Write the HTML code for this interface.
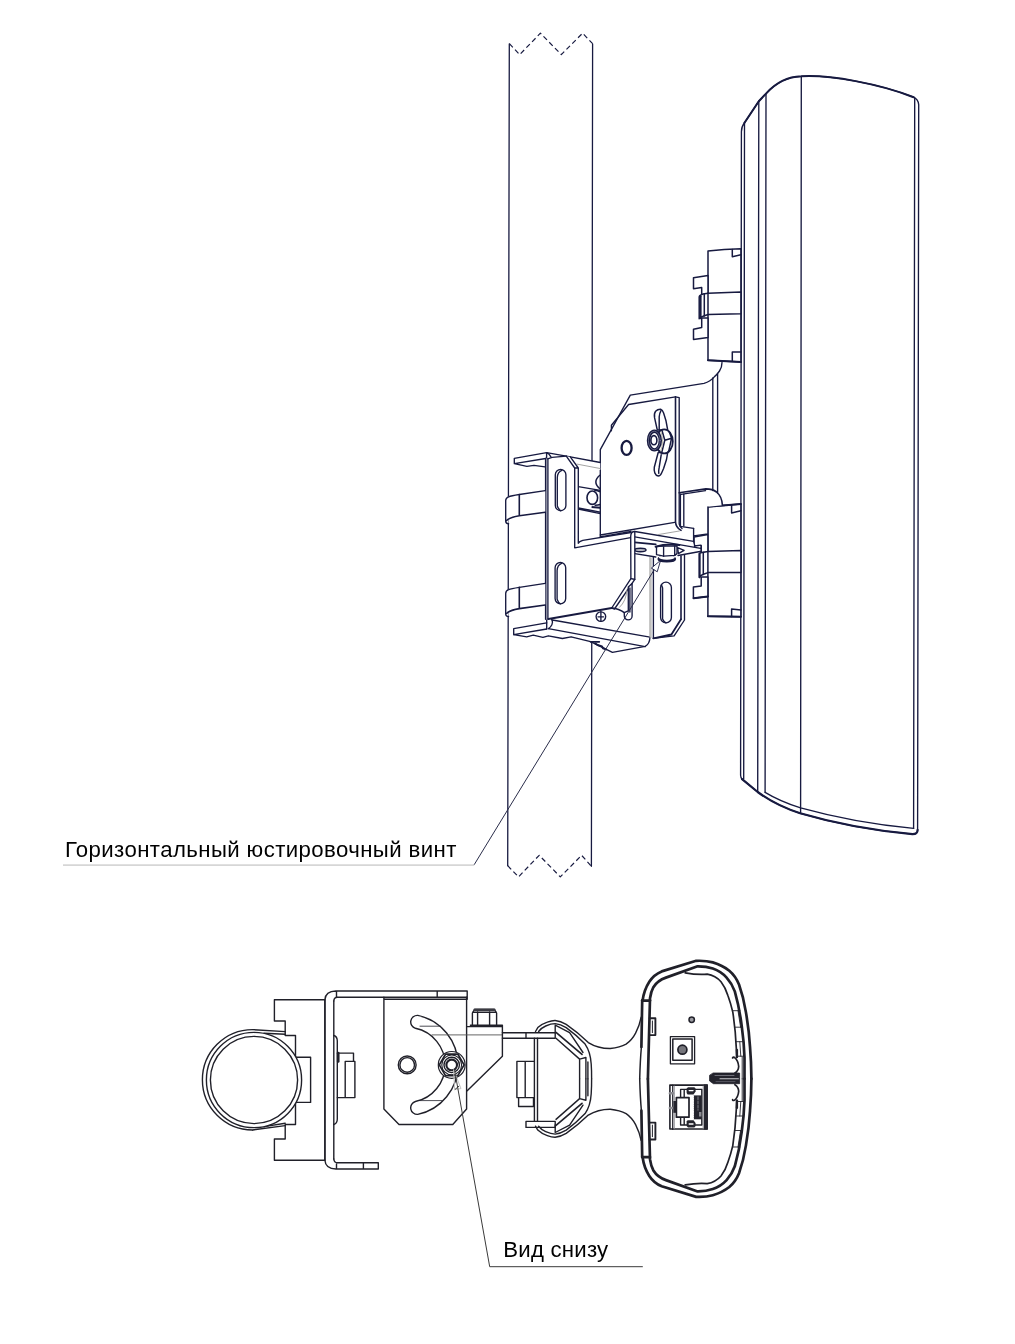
<!DOCTYPE html>
<html><head><meta charset="utf-8">
<style>
html,body{margin:0;padding:0;background:#fff;}
body{width:1015px;height:1344px;overflow:hidden;position:relative;font-family:"Liberation Sans",sans-serif;}
svg{position:absolute;left:0;top:0;display:block;}
.t{stroke:#171a40;fill:none;stroke-width:1.35;stroke-linecap:round;stroke-linejoin:round;}
.t .w{fill:#fff;}
.t .k{stroke-width:2;}
.t .m{stroke-width:1.6;}
.t .g{stroke:#9a9a98;stroke-width:0.9;}
.b{stroke:#202029;fill:none;stroke-width:1.4;stroke-linecap:round;stroke-linejoin:round;}
.b .w{fill:#fff;}
.b .k{stroke-width:2.7;}
.b .m{stroke-width:1.7;}
.b .g{stroke:#9a9a9a;stroke-width:0.9;}
.b .d{fill:#24242d;}
text{font-family:"Liberation Sans",sans-serif;fill:#000;stroke:none;}
</style></head><body>
<svg width="1015" height="1344" viewBox="0 0 1015 1344">
<!-- ===== TOP VIEW ===== -->
<g class="t" id="top">
<!-- POLE -->
<g id="pole" style="stroke-width:1.3">
<path d="M509.3 44L507.7 865.7M592.6 44L592 460.7M591.75 641.6L591.4 866.3"/>
<path d="M509.4 43.7L519.7 54.6L540.4 33.2L561.3 54.6L582.6 33.2L592.6 43.7" stroke-dasharray="5 3.2" style="stroke-linecap:butt;stroke-width:1.2"/>
<path d="M507.7 865.7L518.5 876.9L539.2 855.3L560.3 876.9L581.6 855.3L591.4 866.3" stroke-dasharray="5 3.2" style="stroke-linecap:butt;stroke-width:1.2"/>
</g>
<!--POLE-END-->
<!-- ANTENNA -->
<g id="antenna">
<path class="w" d="M741.4 131.7L740.6 775.3Q740.7 778 742.1 779.2L757.7 792Q776 805.5 800.2 813.3Q852 828.5 912.4 834.2Q917.6 834.3 917.6 829.9L918.7 104.6Q918.3 99.6 913.6 97.2C880 84 830 74.5 801.3 76.3Q781 77 766 93.6L758.8 101.2L744.5 122.8Q741.5 126.5 741.4 131.7Z"/>
<path class="k" d="M744.5 122.8L758.8 101.2L766 93.6Q781 77 801.3 76.3C830 74.5 880 84 913.6 97.2"/>
<path class="k" d="M742.1 779.2L757.7 792Q776 805.5 800.2 813.3Q852 828.5 912.4 834.2Q917.6 834.3 917.6 829.9" style="stroke-width:2.2"/>
<path d="M744.5 122.8L743.7 778.7"/>
<path d="M758.8 101.2L757.7 792"/>
<path d="M766 93.6L765.1 792.3"/>
<path d="M801.3 76.3L800.6 813"/>
<path d="M914.7 98L913.6 828.4"/>
<path d="M765.1 792.3Q780 801.3 800.6 807.9Q855 823 913.6 828.4"/>
</g>
<!--ANTENNA-END-->
<!-- UPPER CLAMP -->
<g id="uclamp" style="stroke-width:1.5">
<path class="w" d="M708 250.9Q724 249.2 740.9 248.7V362.1L708 360.2Z"/>
<path class="k" d="M708 360.2L741 362.1"/>
<path d="M732.3 249.6V256.8L740.9 254.7M740.9 352H732.3V360.8"/>
<path class="w" d="M708 275.5L693.5 277.8V288.8L701.7 287.5V295.1H708Z"/>
<path class="w" d="M708 317.9H701.7V327.4L693.5 329.3V339.4L708 337.5Z"/>
<path class="w" d="M699.2 296.8Q699.6 295 703 294L708 293.2L740.9 292V313.7L708 314.5L703 316.3Q699.8 317.3 699.2 318.8Z"/>
<path class="k" d="M700.6 296.3V318.2"/>
<path d="M704.3 293.8V316M708 293.2V314.5"/>
</g>
<!-- LOWER CLAMP -->
<g id="lclamp" style="stroke-width:1.5">
<path class="w" d="M707.9 506.8L740.9 504V616.7L707.9 616.2Z"/>
<path class="k" d="M707.9 506.8L740.9 504M707.9 616.2L740.9 616.7"/>
<path d="M731.6 505.1V512.9L740.9 510.7M740.9 610L731.6 608.9V616.5"/>
<path class="w" d="M707.9 534.4L694 536.9V546.4L701.2 545.8V552.5H707.9Z"/>
<path class="w" d="M707.9 577H701.2V586L693.4 587.1V598.3L707.9 596.6Z"/>
<path class="w" d="M699.4 553.6Q700 552.8 702.4 552.5L707.9 551.4L740.9 550.5V572.4L707.9 572.6L703.5 574.3Q700 575.5 699.4 577.4Z"/>
<path class="k" d="M699.6 553.4V577.2M693.6 598.2L707.9 596.6"/>
<path d="M703.3 552.4V574.4M707.9 551.4V572.6"/>
</g>
<!-- BACK PLATE (big plate with diagonal corner) -->
<g id="backplate">
<path class="w" style="stroke:none" d="M600.3 536.6V449.7L630.3 395.2L704 383.3Q710.5 381.6 714.5 376.6Q717 374.6 719.5 371Q722 367.5 722 362.5L722.4 505.2L707.9 506.8V533.8L693.6 535.2V528.3L680.2 526.3L674.7 522.4Z"/><path d="M600.3 536.6V449.7L630.3 395.2L704 383.3Q710.5 381.6 714.5 376.6Q717 374.6 719.5 371Q722 367.5 722 362.5"/>
<path d="M712.8 377.8V490.6M717.6 373.8V493"/>
<path class="m" d="M679.2 492.8L705.9 488.9Q712.5 489 716.5 492Q722 496.5 722.4 505.2"/>
<path d="M681 494.3L705.5 490.6M683.8 494V525.9M680.4 494V526"/>
<path d="M707.9 506.8V533.8L693.6 535.8M693.6 528.3V541.5"/>
</g>
<!-- FRONT INNER PLATE -->
<g id="innerplate">
<path d="M611.4 430.7V425.2L628.6 404.5L675.5 396.9"/>
<path class="m" d="M675.5 396.9V521.7Q675.8 527.5 681 530.4"/>
<path d="M679.2 397.6V524Q680 527 682 528.5M675.5 396.9L679.2 397.6"/>
<path d="M600.3 535L674.7 522.4M600.3 536.9L631 531.5"/>
<path d="M680.2 526.3L693.6 528.3"/>
<ellipse cx="626.6" cy="447.9" rx="5" ry="7" style="stroke-width:2.3"/>
</g>
<!-- WING NUT -->
<g id="wingnut" style="stroke-width:1.45">
<path class="w" d="M657.3 430L654.6 417.9Q653.8 413.5 655.6 411.2Q657.6 409.2 660.6 409.3Q662.6 410 663.6 413L666 420.8L667.7 430Z"/>
<path d="M659.2 430V416.7Q659.4 413.5 661 410.6"/>
<path class="w" d="M658.2 452.5L654.3 467.3Q653.8 470.5 654.8 472.9Q656 475.8 658.2 476Q660.4 476 661.6 473L663.6 468.5L666.5 459.5L667.7 452.4Z"/>
<path d="M661.2 454.8L659.1 467.9Q658.5 470.5 658.8 473.4"/>
<ellipse class="w" cx="664.2" cy="441.4" rx="8.6" ry="12" style="stroke-width:1.8"/>
<path d="M662 430.5L664.8 440.3L661.8 452.2M664.8 440.3L671.6 438.2M669.3 431.8L671.6 438.2L668.8 450.8" style="stroke-width:1.5"/>
<path class="g" d="M661 432Q664.3 441 660.8 451" style="stroke:#b9b7a8;stroke-width:1"/>
<ellipse class="w" cx="654.4" cy="440.6" rx="5.9" ry="9.3" style="stroke-width:3.4"/>
<ellipse cx="654.3" cy="440.5" rx="5.9" ry="9.3" style="stroke:#8d8fa6;stroke-width:.6"/>
<ellipse cx="653.9" cy="440.2" rx="3" ry="4.6" style="stroke-width:1.6"/>
</g>
<!-- BOTTOM FLANGE (horizontal plate under bracket) -->
<g id="bflange">
<path class="w" style="stroke:none" d="M513.7 628.7L546.7 622.8L548.4 619L611.7 608L650 637.2Q649.6 644 645.2 646.4L612.4 652.3L590.6 641.7L571.1 636.8L562.4 638.5L548.4 635.8L542.9 637.4L533.2 635.2L526.7 636.8L513.7 634.7Z"/>
<path d="M546.7 622.8L513.7 628.7V634.7L526.7 636.8L533.2 635.2L542.9 637.4L548.4 635.8L562.4 638.5L571.1 636.8L590.6 641.7L612.4 652.3L645.2 646.4Q649.6 644 650 637.2M513.7 634.7L546.7 629"/>
<path d="M551.6 619.4Q553.3 622 551.9 624.8Q550.6 627.4 548.4 628.7M546.7 620V629M552.4 620L650 637.2M548.4 628.7L645.2 646.6"/>
<path d="M590.6 641.8H599.3" style="stroke-width:1.7"/>
<path d="M595.5 643.6L597.6 645L602 646.4L603 648.2L606 649.4" style="stroke-width:2"/>
<circle class="w" cx="600.9" cy="616.6" r="4.8"/>
<path d="M600.9 611.6V621.2M598 616.8H603.6"/>
</g>
<!-- ANGLE PLATE ON POLE (L-shaped front plate) -->
<g id="lplate">
<!-- top flange -->
<path class="w" style="stroke:none" d="M514.3 458.3L546.6 452.6L566.3 456.2L600.3 462.5V470L578.3 468L545.7 466.8L534 465.4L526.9 466.4L514.3 463.6Z"/>
<path d="M600.3 462.5L566.3 456.2L546.6 452.6L514.3 458.3V463.6L526.9 466.4L534 465.4L545 466.8M514.3 463.6L545.7 458.5"/>
<path d="M546.6 452.6Q549.5 453.8 550.9 456.9M546.6 452.6V458.4"/>
<!-- front face -->
<path class="w" style="stroke:none" d="M545.7 458.5L552.1 457.3L566.3 456.2L570.3 456.9L578.3 468V543.3L632 537.4L631 578.6L611.7 608L548.3 619L545.7 619.3Z"/>
<path d="M547.6 458.9L552.1 457.3L566.3 456.2"/>
<path class="m" d="M545.7 458.5V619.3"/>
<path d="M547.9 458.8V619"/>
<path d="M566.3 456.2L574.7 468V547.8L632 537.4"/>
<path d="M570.3 456.9L578.3 468V543.3Q578.8 541.5 582.8 540.3L631 532.5M574.7 468H578.3"/>
<path class="g" d="M577 464.1L600 468.5"/>
<!-- slots -->
<rect x="555.3" y="469.5" width="10.6" height="41.2" rx="5.3"/>
<path d="M561.8 470.4Q557.6 472 557.3 477.5V506Q558.5 509.6 560.6 510.6"/>
<rect x="555.1" y="562.5" width="10.6" height="41.4" rx="5.3"/>
<path d="M561.6 563.4Q557.4 565 557.1 570.5V599.2Q558.3 602.8 560.4 603.8"/>
<path class="k" d="M548.3 619L611.7 608"/>
</g>
<!-- BAND CLAMPS ON POLE -->
<g id="bands">
<path class="w" d="M545.3 490.6L519.3 494.5Q511 495.8 508.6 496.8Q505.7 497.8 505.7 500.6V521.4Q505.9 523.7 508.6 523.7L508.6 519Q511 517.3 519.3 515.8L545.3 512.2Z" style="stroke:none"/><path d="M545.3 490.6L519.3 494.5Q511 495.8 508.6 496.8Q505.7 497.8 505.7 500.6V521.4Q505.9 523.7 508.6 523.7"/><path class="m" d="M506.6 520.6Q509 517.5 519.3 515.8L545.3 512.2M519.3 494.5V515.8"/>
<path class="w" d="M545.3 583.4L519.3 587.3Q511 588.6 508.6 589.6Q505.7 590.6 505.7 593.4V614.2Q505.9 616.5 508.6 616.5L508.6 611.8Q511 610.1 519.3 608.6L545.3 605.0Z" style="stroke:none"/><path d="M545.3 583.4L519.3 587.3Q511 588.6 508.6 589.6Q505.7 590.6 505.7 593.4V614.2Q505.9 616.5 508.6 616.5"/><path class="m" d="M506.6 613.4Q509 610.3 519.3 608.6L545.3 605.0M519.3 587.3V608.6"/>
</g>
<!-- HARDWARE BETWEEN L-PLATE AND BACK PLATE -->
<g id="hw" style="stroke-linecap:butt">
<path d="M578.3 486.7L600.3 490.4M578.3 507.8L600.3 512.2M578.3 509.2L600.3 513.6"/>
<path d="M594.2 490.2Q598 490.4 600.2 491.8M594.6 505.3Q598 505.4 600.2 504.6" style="stroke-width:1.6"/>
<ellipse class="w" cx="592.3" cy="497.7" rx="5.3" ry="6.7" style="stroke-width:1.6"/>
<path d="M591.6 507L600.2 507.8" style="stroke-width:2"/>
<path d="M600.2 475Q591.5 481.8 600.2 489" style="stroke-width:1.5"/>
</g>
<!-- LOWER BRACKET -->
<g id="lbracket">
<!-- front plate 2 -->
<path class="w" d="M649.9 557.2H684.5V620L674.1 635.9L653.4 638.5L649.9 637.2Z" style="stroke:none"/>
<path class="g" d="M649.9 557.2V637.2M651 558V637.6"/>
<path d="M653.4 557.5V638.3"/>
<path class="k" d="M653.4 638.3L671.4 634.5L681 619.3" style="stroke-width:1.8"/><path class="m" d="M681 619.3V556"/>
<path d="M653.4 638.3L674.1 635.9L684.5 620V551"/>
<rect x="660.6" y="582.1" width="10.8" height="40.7" rx="5.4"/>
<path d="M662.6 588V619Q664 622 666 622.8M662.6 588Q662 586 661.3 585"/>
<!-- top flange of lower bracket -->
<path class="w" d="M634.8 531.5L693.6 541.3L694.8 545.6L701 545.2V551.5L677.8 555.5L655.8 557L634.8 553.7Z" style="stroke:none"/>
<path d="M634.8 531.5L693.6 541.3M634.8 536.9L700.7 548.4M634.8 553.7L655.8 557M678 555.5L700 551.5M693.6 541.3L694.8 545.8M694.4 546L701 545.2V551.5"/>
<path class="m" d="M634.8 542.4L655.8 544.4"/>
<path class="g" d="M658.1 534.6L679.4 531"/>
<ellipse cx="640.4" cy="550" rx="5.6" ry="1.7" style="stroke-width:1.5;fill:#b9b9c0"/>
<!-- small vertical piece + gusset -->
<path class="w" d="M630.7 536.5Q630.7 531.5 634.8 531.5V579.3L614.5 609L611.7 608L630.9 578.6Z"/>
<path d="M634.8 579.3Q633 579 631 578.6"/>
<path class="w" d="M628.3 587L632.1 583.5V616A3.9 3.9 0 0 1 624.3 616V612.6Q626.6 611.6 628.3 610.8Z"/>
<path d="M629.9 588V612"/>
<path class="m" d="M611.7 608Q619 608.6 624.3 612.6"/>
<path class="g" d="M626.8 590Q626.4 601 619.5 607.3"/>
<!-- nut -->
<ellipse cx="666.8" cy="559" rx="8.7" ry="2.9" style="fill:#171a40"/>
<ellipse cx="666.8" cy="557.6" rx="8" ry="2.1" style="fill:#fff;stroke:none"/>
<path class="w" d="M656.5 546.3V554.6L663.6 556.2L674.7 555.4L677 553.6V545.8Z"/>
<path d="M663.6 546.8V556.2M674.7 546V555.4"/>
<path class="w" d="M677.6 547.6L684.1 550.3L678.4 553.6Z"/>
<path class="k" d="M655.6 546.8Q666 543.4 679.4 545"/>
</g>
<!-- arrowhead -->
<path class="w" d="M660.3 560.6L651.4 568.1L656.9 571.6Z" style="stroke-width:.9"/>


</g>
<!-- ===== BOTTOM VIEW ===== -->
<g class="b" id="bot">
<!-- STEPPED POLE CLAMP -->
<g id="bclamp">
<path class="w" d="M324.9 999.7H274.4V1021H285.2V1035.5H295.5V1057.2H310.6V1102.4H295.5V1124.5H285.2V1139H274.4V1160.3H324.9Z"/>
<path d="M252.6 1029.6L285.2 1031.6M264 1033.2L285.2 1034.3M252.6 1130L285.2 1125.6M264 1126.6L285.2 1123.2"/>
<path class="w" d="M252.6 1029.6A50.2 50.2 0 1 0 252.6 1130Z" style="stroke:none"/>
<path d="M252.6 1029.6A50.2 50.2 0 1 0 252.6 1130"/>
<circle class="w" cx="254" cy="1080" r="47.6"/>
<circle cx="254" cy="1080" r="43.6"/>
</g>
<!-- U BRACKET -->
<g id="ubracket">
<path d="M324.9 999.7V1160.3M333.8 1001V1159"/>
<path d="M324.9 999.7Q325.5 991.2 335.9 991H467.2V999.3M333.8 1001Q334 997.4 337.3 997.2H467.2M336.5 991V997.2M437.2 991V997.2"/>
<path d="M324.9 1160.3Q325.5 1168.8 335.9 1169H378.3V1162.8H337.3Q334 1162.6 333.8 1159M336.5 1162.8V1169M363.4 1162.8V1169"/>
<path d="M333.8 1035.5Q337.3 1036.5 337.3 1041V1119Q337.3 1123.5 333.8 1124.5"/>
<path d="M337.3 1053.1H353.5V1061.4M345.2 1061.4H354.9V1097.6H337.3M345.2 1061.4V1097.6"/>
<path class="k" d="M338.2 1053.1V1061.4"/>
</g>
<!-- INNER PLATE WITH CRESCENT SLOT -->
<g id="iplate">
<path d="M383.9 997.2V1109L399 1124.5H452.8L466.6 1109V997.2M383.9 999.3H466.6"/>
<path d="M416.6 1015.4A50.6 50.6 0 0 1 416.6 1114.4A6.6 6.6 0 0 1 414.2 1101.5A37.4 37.4 0 0 0 414.2 1028.3A6.6 6.6 0 0 1 416.6 1015.4Z" transform="translate(1.2,0)"/>
<path class="g" d="M432 1034.9H502.4" style="stroke:#555"/>
<path d="M420 1026.2H440.5M420 1100.6H442" style="stroke-width:.8"/>
<circle cx="407.2" cy="1064.9" r="8.9"/>
<circle cx="407.2" cy="1064.9" r="7.3"/>
<circle class="w" cx="451.7" cy="1064.9" r="13.4" style="stroke-width:1.2"/>
<polygon points="464.1,1064.9 457.9,1075.6 445.5,1075.6 439.3,1064.9 445.5,1054.2 457.9,1054.2" style="stroke-width:1.7"/>
<circle cx="451.7" cy="1064.9" r="9.9" style="stroke-width:1.1"/>
<circle cx="451.7" cy="1064.9" r="7.7" style="stroke-width:1.4"/>
<circle cx="451.7" cy="1064.9" r="5.3" style="stroke-width:2.1"/>
</g>
<!-- TRAPEZOID + BOLT -->
<g id="trap">
<path d="M467.2 1026.6H502.4V1056.2L467.2 1090.8M470.4 1025.2H502.4V1026.6"/>
<path d="M472.4 1025.2V1013L474.6 1009.4H494.4L496.6 1013V1025.2M477.6 1012V1025.2M489.6 1012V1025.2"/>
<path class="k" d="M474.8 1009.8H494.2" style="stroke-width:2.6;stroke:#3a3a42"/>
<path d="M473 1012.2H496"/>
</g>
<!-- ARM + CLIP -->
<g id="clip">
<path d="M502.4 1032.8H555.2V1038.3H502.4M526 1032.8V1038.3"/>
<path d="M526 1121.4H555.2V1127.4H526Z"/>
<path d="M534.4 1038.3V1121.4M537.5 1038.3V1121.4"/>
<path d="M516.9 1061.4H534.4M516.9 1061.4V1097.6H534.4M525.2 1061.4V1097.6M518.6 1097.6V1106.5H533.5V1097.6"/>
<g id="cliphalf">
<path d="M535.5 1031.5L537.8 1027.6Q541.5 1024 547.3 1022.1Q552 1020.4 555.2 1020.5Q560.5 1021 566.2 1024.4Q578 1032.5 588.3 1042.6Q598 1048.6 610.3 1048.5Q620 1047.5 626.1 1044.1Q632 1040 635.6 1033.1Q639.5 1025.5 641.1 1017.3"/>
<path d="M538.6 1031.5Q541.5 1027.8 545.7 1026Q551 1023.6 555.2 1023.6Q560.5 1024.2 566.2 1027.6Q576.5 1035 585.1 1044.1Q590.5 1052 591.2 1064Q591.7 1071 591.6 1078.85"/>
<path d="M555.2 1025.2V1032.8M555.2 1025.2L569.6 1032.6L583 1052.5"/>
<path class="m" d="M556 1032.4L582 1054.4"/>
<path d="M556 1038.3L579.6 1059.1V1078.85M585.9 1057.5V1078.85M579.6 1059.1L585.9 1057.5M587.9 1062V1078.85"/>
</g>
<g transform="translate(0,2157.7) scale(1,-1)">
<path d="M535.5 1031.5L537.8 1027.6Q541.5 1024 547.3 1022.1Q552 1020.4 555.2 1020.5Q560.5 1021 566.2 1024.4Q578 1032.5 588.3 1042.6Q598 1048.6 610.3 1048.5Q620 1047.5 626.1 1044.1Q632 1040 635.6 1033.1Q639.5 1025.5 641.1 1017.3"/>
<path d="M538.6 1031.5Q541.5 1027.8 545.7 1026Q551 1023.6 555.2 1023.6Q560.5 1024.2 566.2 1027.6Q576.5 1035 585.1 1044.1Q590.5 1052 591.2 1064Q591.7 1071 591.6 1078.85"/>
<path d="M555.2 1025.2V1032.8M555.2 1025.2L569.6 1032.6L583 1052.5"/>
<path class="m" d="M556 1032.4L582 1054.4"/>
<path d="M556 1038.3L579.6 1059.1V1078.85M585.9 1057.5V1078.85M579.6 1059.1L585.9 1057.5M587.9 1062V1078.85"/>
</g>
</g>
<!-- ANTENNA BOTTOM -->
<g id="abot">
<g id="abhalf">
<path d="M639.7 1078.85Q640.2 1060 641.4 1047" style="stroke-width:1.5"/>
<path class="k" d="M641.4 1047L642.2 1000.4H642.6Q644 990 649.3 981.7Q654 974.5 661.7 971.4L696.2 960.8Q706 960.4 712.8 962.4Q722.5 965.4 729.3 970.7Q735.6 976 739 984.5Q743.5 997 745.9 1012.1Q749 1030 750 1046.6Q751.3 1062 751.4 1078.85"/>
<path class="k" d="M647.9 1078.85L650 998.3Q651 991.5 653.4 987.2Q657.5 980.5 665.9 977.6L697.6 966.3Q706 966.2 712.8 968.6Q721 971.5 726.6 977.6Q732 983.5 734.8 991.4Q739.5 1008 741.7 1025.9Q744 1042 744.5 1057.6V1078.85"/>
<path class="m" d="M685.2 972.8Q697 974.9 707.2 974.1Q715.5 975.4 721 981.7Q725.5 987.5 727.9 995.5Q730.8 1003.5 732.8 1012.1Q735.5 1030 736.2 1046.6L736.9 1057.3"/>
<path class="m" d="M732.6 1058Q732.6 1056.8 734.4 1057.4Q738.2 1060.5 738.7 1066.5Q738.4 1071 734.9 1073"/>
<path d="M736.9 1050V1057.1" style="stroke-width:2.4"/>
<path class="k" d="M642.2 1000.6H650" />
<path d="M732.6 1010.7H740M734.8 1027.2H742M735.8 1041.7H743.4M736.6 1056.2H744.4M738 1010.7L740.6 1027.2M739.8 1041.7L740.8 1056.2" style="stroke-width:.9"/>
<path d="M649.6 1018.2H655.4V1035.1H649.6" style="stroke-width:1.9"/><path d="M652.4 1021V1032.6" style="stroke-width:1"/>
<path d="M742.2 1057V1078.85" style="stroke-width:.9"/>
</g>
<g transform="translate(0,2157.7) scale(1,-1)">
<path d="M639.7 1078.85Q640.2 1060 641.4 1047" style="stroke-width:1.5"/>
<path class="k" d="M641.4 1047L642.2 1000.4H642.6Q644 990 649.3 981.7Q654 974.5 661.7 971.4L696.2 960.8Q706 960.4 712.8 962.4Q722.5 965.4 729.3 970.7Q735.6 976 739 984.5Q743.5 997 745.9 1012.1Q749 1030 750 1046.6Q751.3 1062 751.4 1078.85"/>
<path class="k" d="M647.9 1078.85L650 998.3Q651 991.5 653.4 987.2Q657.5 980.5 665.9 977.6L697.6 966.3Q706 966.2 712.8 968.6Q721 971.5 726.6 977.6Q732 983.5 734.8 991.4Q739.5 1008 741.7 1025.9Q744 1042 744.5 1057.6V1078.85"/>
<path class="m" d="M685.2 972.8Q697 974.9 707.2 974.1Q715.5 975.4 721 981.7Q725.5 987.5 727.9 995.5Q730.8 1003.5 732.8 1012.1Q735.5 1030 736.2 1046.6L736.9 1057.3"/>
<path class="m" d="M732.6 1058Q732.6 1056.8 734.4 1057.4Q738.2 1060.5 738.7 1066.5Q738.4 1071 734.9 1073"/>
<path d="M736.9 1050V1057.1" style="stroke-width:2.4"/>
<path class="k" d="M642.2 1000.6H650" />
<path d="M732.6 1010.7H740M734.8 1027.2H742M735.8 1041.7H743.4M736.6 1056.2H744.4M738 1010.7L740.6 1027.2M739.8 1041.7L740.8 1056.2" style="stroke-width:.9"/>
<path d="M649.6 1018.2H655.4V1035.1H649.6" style="stroke-width:1.9"/><path d="M652.4 1021V1032.6" style="stroke-width:1"/>
<path d="M742.2 1057V1078.85" style="stroke-width:.9"/>
</g>
<!-- cable slot -->
<path class="d" d="M713.4 1073H739.6V1083.7H713.4L709.6 1081V1075.6Z" style="stroke-width:.8"/>
<path d="M715 1075.5H734" style="stroke:#6e6e78;stroke-width:1"/>
<path d="M720 1078.7H738.4" style="stroke:#c9c9ce;stroke-width:1.1"/>
<path d="M716 1081.6H735" style="stroke:#5e5e68;stroke-width:.9"/>
<!-- small circle -->
<circle cx="691.7" cy="1019.7" r="2.7" style="stroke-width:1.5;fill:#9a9aa0"/>
<!-- square with circle -->
<rect x="670.4" y="1036.6" width="24.2" height="27.2" style="stroke-width:1.3"/>
<rect x="672.8" y="1039" width="19.3" height="21.3" style="stroke-width:1.5"/>
<circle cx="682.4" cy="1049.7" r="4.5" style="stroke-width:1.7;fill:#76767c"/>
<!-- RJ45 -->
<g id="rj45">
<rect x="669.9" y="1085.1" width="37.2" height="43.9" style="stroke-width:1.6"/>
<path d="M672.7 1085V1129.5" style="stroke-width:1.2"/>
<path d="M674.2 1086V1128.6" style="stroke:#8a8a90;stroke-width:1"/>
<path d="M669.9 1093.2H673M669.9 1108H673" style="stroke:#8a8a90;stroke-width:2.6"/>
<rect class="d" x="703.8" y="1084.4" width="4" height="45.3" style="stroke:none"/>
<path d="M703.2 1086V1128.6" style="stroke:#8a8a90;stroke-width:.9"/>
<rect x="676.4" y="1097.6" width="12.6" height="19.6" style="stroke-width:1.7"/>
<rect class="d" x="673.4" y="1101" width="2.6" height="11.8" style="stroke:none"/>
<path d="M680.6 1097V1089.4H701.8V1125H680.6V1117.8M684.2 1089.4V1097M684.2 1117.8V1125" style="stroke-width:1.4"/>
<path class="d" d="M686.6 1088.4L688 1087.3H694.4L695.6 1088.6V1091.5L693.5 1094.5H687.6L686.6 1093Z" style="stroke:none"/>
<path d="M689.2 1090.6H693" style="stroke:#fff;stroke-width:1.4"/>
<path class="d" d="M686.6 1126L688 1127.4H694.4L695.6 1126V1123L693.5 1120.2H687.6L686.6 1121.6Z" style="stroke:none"/>
<path d="M689.2 1124H693" style="stroke:#fff;stroke-width:1.4"/>
<rect class="d" x="693.6" y="1095.4" width="7.8" height="23.9" style="stroke:none"/>
<path d="M693.4 1096V1119" style="stroke:#fff;stroke-width:1;stroke-dasharray:1.1 1.1"/>
<path d="M698 1097V1110" style="stroke:#6c6c74;stroke-width:1.3;stroke-dasharray:2.6 1.6"/>
<rect x="699" y="1112" width="2.4" height="4.5" style="stroke:none;fill:#8a8a90"/>
</g>
</g>

</g>
<!-- LABELS -->
<g id="labels" style="will-change:transform;opacity:.999">
<path d="M63 865.1H474.2" stroke="#d6d6d6" stroke-width="1.7" fill="none"/>
<path d="M474.2 864.7L654.2 569.8" stroke="#2a2d4a" stroke-width="1" fill="none"/>
<path d="M453.6 1069.6L454.6 1089.5L461 1088.6Z" stroke="#c4c4c4" stroke-width="1" fill="none" stroke-linejoin="round"/>
<path d="M454.8 1089.6L459.2 1086" stroke="#333" stroke-width="1" fill="none"/>
<path d="M454.6 1070.2L489.7 1266.7H642.8" stroke="#3a3a3a" stroke-width="1" fill="none"/>
<text id="lab1" x="64.9" y="856.5" font-size="22.2" textLength="391.5" lengthAdjust="spacing">Горизонтальный юстировочный винт</text>
<text id="lab2" x="503.2" y="1257" font-size="22.2" textLength="105" lengthAdjust="spacing">Вид снизу</text>
</g>
</svg>
</body></html>
